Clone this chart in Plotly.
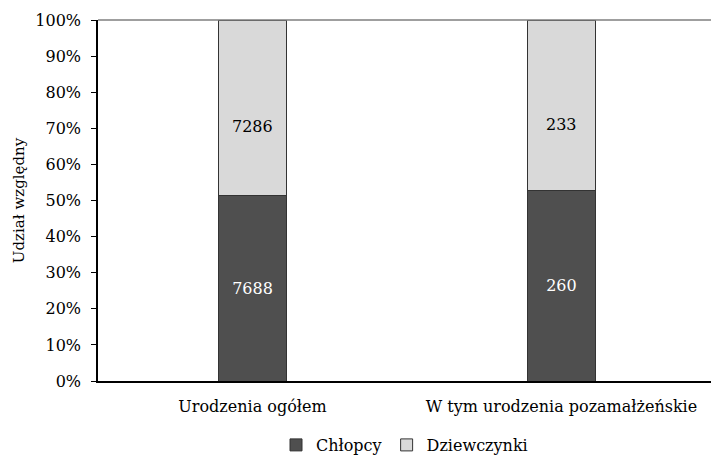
import plotly.graph_objects as go

categories = ["Urodzenia ogółem", "W tym urodzenia pozamałżeńskie"]
chlopcy = [7688, 260]
dziewczynki = [7286, 233]
y_ticks = [0, 0.1, 0.2, 0.3, 0.4, 0.5, 0.6, 0.7, 0.8, 0.9, 1.0]
y_tick_labels = ["0%", "10%", "20%", "30%", "40%", "50%", "60%", "70%", "80%", "90%", "100%"]

totals = [a + b for a, b in zip(chlopcy, dziewczynki)]
share_c = [a / t for a, t in zip(chlopcy, totals)]
share_d = [b / t for b, t in zip(dziewczynki, totals)]

FONT = "DejaVu Serif"
FS = 16

fig = go.Figure()
fig.add_trace(go.Bar(
    x=categories, y=share_c, name="Chłopcy",
    marker=dict(color="#4f4f4f", line=dict(color="#333333", width=1)),
    text=[str(v) for v in chlopcy], textposition="inside", insidetextanchor="middle",
    textfont=dict(color="white", size=FS, family=FONT),
    width=0.22, hoverinfo="skip",
))
fig.add_trace(go.Bar(
    x=categories, y=share_d, name="Dziewczynki",
    marker=dict(color="#d9d9d9", line=dict(color="#333333", width=1)),
    width=0.22, hoverinfo="skip",
))
for cat, c, d, v in zip(categories, share_c, share_d, dziewczynki):
    fig.add_annotation(x=cat, y=c + d / 2, text=str(v), showarrow=False,
                       yshift=-19, font=dict(color="black", size=FS, family=FONT))

fig.add_shape(type="line", xref="paper", yref="paper", x0=0, x1=1, y0=1, y1=1,
              line=dict(color="#7f7f7f", width=1.5))

fig.update_layout(
    barmode="stack",
    width=711, height=457,
    margin=dict(l=98, r=0, t=20, b=76, autoexpand=False),
    plot_bgcolor="white", paper_bgcolor="white",
    font=dict(family=FONT, size=FS, color="black"),
    showlegend=True,
    legend=dict(orientation="h", x=0.5, xanchor="center", y=-64 / 361, yanchor="middle",
                font=dict(size=FS, family=FONT), itemwidth=30, traceorder="normal"),
    xaxis=dict(range=[-0.5, 1.484], showline=True, linecolor="black", linewidth=1.5,
               ticks="", showgrid=False, tickfont=dict(size=FS, family=FONT),
               ticklabelstandoff=10),
    yaxis=dict(range=[0, 1], tickvals=y_ticks, ticktext=y_tick_labels,
               showline=True, linecolor="black", linewidth=1.5, ticks="outside",
               ticklen=5, tickcolor="black", showgrid=False, zeroline=False,
               ticklabelstandoff=7,
               title=dict(text="Udział względny", font=dict(size=15, family=FONT), standoff=7),
               tickfont=dict(size=FS, family=FONT)),
)

fig.write_html("out.html", config={"displayModeBar": False},
               post_script="document.body.style.margin='0';document.body.style.overflow='hidden';"
                           "var gd=document.getElementById('{plot_id}');"
                           "Plotly.relayout(gd,{width:711,height:457});")
